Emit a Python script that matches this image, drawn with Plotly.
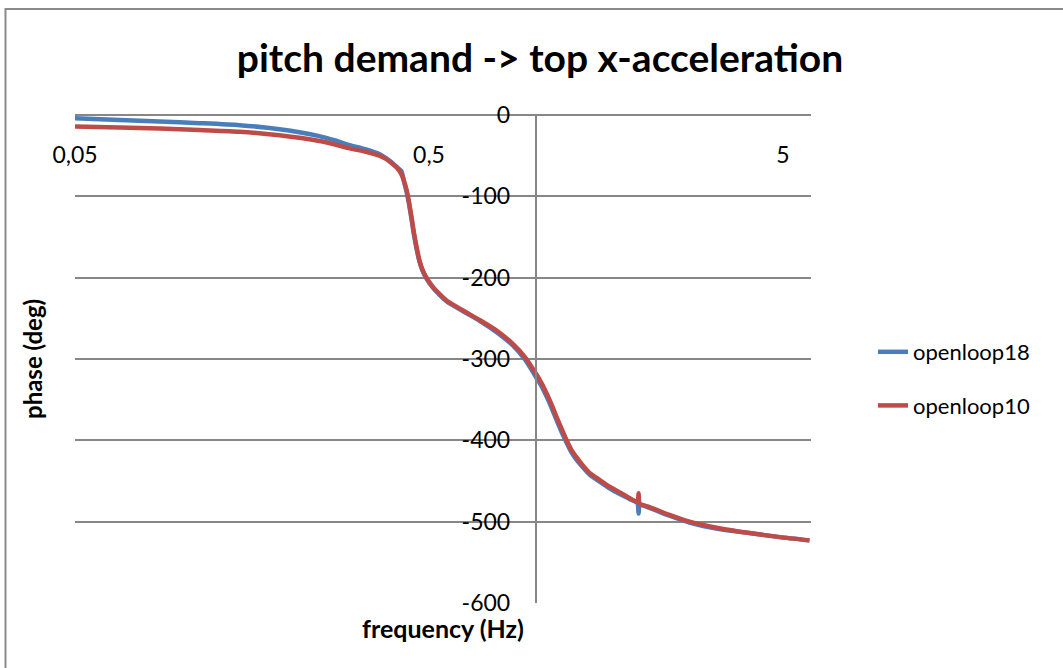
import numpy as np
import plotly.graph_objects as go

# frequency grid (Hz) shared by both runs
freq_hz = [0.05, 0.0668, 0.0867, 0.1125, 0.146, 0.189, 0.245, 0.27, 0.2985, 0.33,
           0.362, 0.378, 0.394, 0.408, 0.418, 0.425, 0.432, 0.439, 0.446, 0.453,
           0.461, 0.470, 0.480, 0.495, 0.512, 0.535, 0.560, 0.622, 0.695, 0.776,
           0.861, 0.931, 0.993, 1.035, 1.074, 1.11, 1.146, 1.185, 1.224, 1.26,
           1.306, 1.36, 1.421, 1.52, 1.618, 1.73, 1.843, 1.94, 1.955, 1.97,
           2.099, 2.4, 2.723, 3.3, 4.02, 4.9, 5.94]

# phase response (deg) of each open-loop run
phase_openloop18 = [-4, -6, -8, -10, -12.5, -17.5, -26, -31, -37, -42,
                    -48, -53, -59, -65, -69, -82, -94, -109, -127, -146,
                    -164, -180, -192, -203, -212, -221, -229, -241, -253, -267,
                    -283, -300, -319, -332, -346, -360, -375, -390, -403, -414,
                    -424, -433, -442, -451, -459, -466, -472, -477, -490, -479,
                    -483, -493, -501, -509, -514, -519, -523]
phase_openloop10 = [-14, -15.5, -16.5, -18.5, -20.5, -25, -32, -36, -41, -45,
                    -50, -54, -60, -66, -73, -81, -92, -107, -125, -144,
                    -162, -179, -191, -202, -211, -220, -228, -240, -252, -265,
                    -281, -297, -315, -328, -342, -356, -371, -386, -400, -411,
                    -421, -431, -440, -449, -457, -464, -471, -476, -465, -478,
                    -482, -492, -500, -508, -514, -519, -523]

x_ticks = [0.05, 0.5, 5]
x_tick_text = ["0,05", "0,5", "5"]
y_ticks = [0, -100, -200, -300, -400, -500, -600]
y_tick_text = ["0", "-100", "-200", "-300", "-400", "-500", "-600"]

FONT = "Lato"
GRID = "#878787"

fig = go.Figure()
fig.add_trace(go.Scatter(x=freq_hz, y=phase_openloop18, mode="lines", name="openloop18",
                         line=dict(color="#4A7EBB", width=4.5, shape="spline", smoothing=0.6),
                         legendgroup="a"))
fig.add_trace(go.Scatter(x=freq_hz, y=phase_openloop10, mode="lines", name="openloop10",
                         line=dict(color="#BE4B48", width=4.5, shape="spline", smoothing=0.6),
                         legendgroup="b"))

L, R, T, B = 75, 252, 115, 65
plot_w = 1063 - L - R
plot_h = 668 - T - B
x_lo, x_hi = np.log10(0.05), np.log10(6)
cross = (0 - x_lo) / (x_hi - x_lo)  # vertical axis crosses at 1 Hz

fig.update_layout(
    width=1063, height=668,
    margin=dict(l=L, r=R, t=T, b=B),
    paper_bgcolor="white", plot_bgcolor="white",
    font=dict(family=FONT, color="black", size=23),
    title=dict(text="<b>pitch demand -> top x-acceleration</b>", x=(540 / 1063), xanchor="center",
               y=1 - 58 / 668, yanchor="middle", font=dict(size=39, family=FONT)),
    xaxis=dict(type="log", range=[x_lo, x_hi], anchor="free", position=1, side="bottom",
               tickvals=x_ticks, ticktext=x_tick_text, showgrid=False, zeroline=False,
               showline=True, linecolor=GRID, linewidth=1.5, ticks="",
               ticklabelstandoff=20, tickfont=dict(size=23)),
    yaxis=dict(range=[-600, 0], anchor="free", position=cross, side="left",
               tickvals=y_ticks, ticktext=y_tick_text, showgrid=True, gridcolor=GRID,
               gridwidth=1.5, zeroline=False, showline=True, linecolor=GRID, linewidth=1.5,
               ticks="", ticklabelstandoff=20, tickfont=dict(size=23)),
    legend=dict(x=(873 - L) / plot_w, xanchor="left", y=(668 - B - 379) / plot_h,
                yanchor="middle", traceorder="grouped", tracegroupgap=22,
                font=dict(size=22), bgcolor="rgba(0,0,0,0)"),
    showlegend=True,
)

# axis titles
fig.add_annotation(text="<b>frequency (Hz)</b>", x=0.5, xref="paper", xanchor="center",
                   y=(668 - B - 628) / plot_h, yref="paper", yanchor="middle",
                   showarrow=False, font=dict(size=25, family=FONT))
fig.add_annotation(text="<b>phase (deg)</b>", x=(32 - L) / plot_w, xref="paper", xanchor="center",
                   y=0.5, yref="paper", yanchor="middle", textangle=-90,
                   showarrow=False, font=dict(size=24, family=FONT))

# chart frame
fig.add_shape(type="rect", xref="paper", yref="paper",
              x0=(5.5 - L) / plot_w, x1=1.5, y0=-0.4, y1=(668 - B - 9) / plot_h,
              line=dict(color="#8a8a8a", width=2), layer="below")

fig.write_html("out.html")
